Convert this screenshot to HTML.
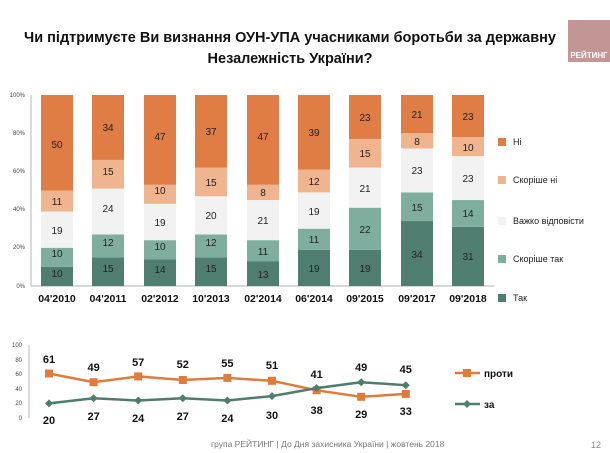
<!DOCTYPE html>
<html><head><meta charset="utf-8"><style>
body{margin:0;background:#fff;}
svg{display:block;font-family:"Liberation Sans",sans-serif;}
</style></head><body>
<svg width="610" height="453" viewBox="0 0 610 453" xmlns="http://www.w3.org/2000/svg">
<rect width="610" height="453" fill="#fff"/>
<text x="290" y="42" font-size="14.5" font-weight="bold" text-anchor="middle" fill="#111">Чи підтримуєте Ви визнання ОУН-УПА учасниками боротьби за державну</text>
<text x="290" y="63" font-size="14.5" font-weight="bold" text-anchor="middle" fill="#111">Незалежність України?</text>
<rect x="568" y="20" width="42" height="42" fill="#c49595"/>
<text x="589" y="58" font-size="8" font-weight="bold" fill="#fff" text-anchor="middle">РЕЙТИНГ</text>

<g font-size="6" fill="#444" text-anchor="end">
<text x="25" y="97">100%</text><text x="25" y="135">80%</text><text x="25" y="173">60%</text><text x="25" y="211">40%</text><text x="25" y="249">20%</text><text x="25" y="288">0%</text>
</g>
<line x1="31" y1="95" x2="31" y2="286" stroke="#999" stroke-width="0.7"/>
<line x1="31" y1="286" x2="494" y2="286" stroke="#999" stroke-width="0.7"/>

<g transform="translate(0,286) scale(1,-1.91)">
<g transform="translate(41,0)"><rect y="0" width="32" height="10" fill="#4f7d6f"/><rect y="10" width="32" height="10" fill="#7fae9f"/><rect y="20" width="32" height="19" fill="#f2f2f2"/><rect y="39" width="32" height="11" fill="#f0b48f"/><rect y="50" width="32" height="50" fill="#df7d45"/></g>
<g transform="translate(92,0)"><rect y="0" width="32" height="15" fill="#4f7d6f"/><rect y="15" width="32" height="12" fill="#7fae9f"/><rect y="27" width="32" height="24" fill="#f2f2f2"/><rect y="51" width="32" height="15" fill="#f0b48f"/><rect y="66" width="32" height="34" fill="#df7d45"/></g>
<g transform="translate(144,0)"><rect y="0" width="32" height="14" fill="#4f7d6f"/><rect y="14" width="32" height="10" fill="#7fae9f"/><rect y="24" width="32" height="19" fill="#f2f2f2"/><rect y="43" width="32" height="10" fill="#f0b48f"/><rect y="53" width="32" height="47" fill="#df7d45"/></g>
<g transform="translate(195,0)"><rect y="0" width="32" height="15" fill="#4f7d6f"/><rect y="15" width="32" height="12" fill="#7fae9f"/><rect y="27" width="32" height="20" fill="#f2f2f2"/><rect y="47" width="32" height="15" fill="#f0b48f"/><rect y="62" width="32" height="38" fill="#df7d45"/></g>
<g transform="translate(247,0)"><rect y="0" width="32" height="13" fill="#4f7d6f"/><rect y="13" width="32" height="11" fill="#7fae9f"/><rect y="24" width="32" height="21" fill="#f2f2f2"/><rect y="45" width="32" height="8" fill="#f0b48f"/><rect y="53" width="32" height="47" fill="#df7d45"/></g>
<g transform="translate(298,0)"><rect y="0" width="32" height="19" fill="#4f7d6f"/><rect y="19" width="32" height="11" fill="#7fae9f"/><rect y="30" width="32" height="19" fill="#f2f2f2"/><rect y="49" width="32" height="12" fill="#f0b48f"/><rect y="61" width="32" height="39" fill="#df7d45"/></g>
<g transform="translate(349,0)"><rect y="0" width="32" height="19" fill="#4f7d6f"/><rect y="19" width="32" height="22" fill="#7fae9f"/><rect y="41" width="32" height="21" fill="#f2f2f2"/><rect y="62" width="32" height="15" fill="#f0b48f"/><rect y="77" width="32" height="23" fill="#df7d45"/></g>
<g transform="translate(401,0)"><rect y="0" width="32" height="34" fill="#4f7d6f"/><rect y="34" width="32" height="15" fill="#7fae9f"/><rect y="49" width="32" height="23" fill="#f2f2f2"/><rect y="72" width="32" height="8" fill="#f0b48f"/><rect y="80" width="32" height="20" fill="#df7d45"/></g>
<g transform="translate(452,0)"><rect y="0" width="32" height="31" fill="#4f7d6f"/><rect y="31" width="32" height="14" fill="#7fae9f"/><rect y="45" width="32" height="23" fill="#f2f2f2"/><rect y="68" width="32" height="10" fill="#f0b48f"/><rect y="78" width="32" height="22" fill="#df7d45"/></g>
</g>

<g font-size="10" fill="#222" text-anchor="middle">
<text x="57" y="277">10</text><text x="57" y="257">10</text><text x="57" y="234">19</text><text x="57" y="205">11</text><text x="57" y="148">50</text>
<text x="108" y="272">15</text><text x="108" y="246">12</text><text x="108" y="212">24</text><text x="108" y="175">15</text><text x="108" y="131">34</text>
<text x="160" y="273">14</text><text x="160" y="250">10</text><text x="160" y="226">19</text><text x="160" y="194">10</text><text x="160" y="140">47</text>
<text x="211" y="272">15</text><text x="211" y="246">12</text><text x="211" y="219">20</text><text x="211" y="186">15</text><text x="211" y="135">37</text>
<text x="263" y="278">13</text><text x="263" y="255">11</text><text x="263" y="224">21</text><text x="263" y="196">8</text><text x="263" y="140">47</text>
<text x="314" y="272">19</text><text x="314" y="243">11</text><text x="314" y="215">19</text><text x="314" y="185">12</text><text x="314" y="136">39</text>
<text x="365" y="272">19</text><text x="365" y="233">22</text><text x="365" y="192">21</text><text x="365" y="157">15</text><text x="365" y="121">23</text>
<text x="417" y="258">34</text><text x="417" y="211">15</text><text x="417" y="174">23</text><text x="417" y="145">8</text><text x="417" y="118">21</text>
<text x="468" y="260">31</text><text x="468" y="217">14</text><text x="468" y="182">23</text><text x="468" y="151">10</text><text x="468" y="120">23</text>
</g>

<g font-size="10.5" font-weight="bold" fill="#111" text-anchor="middle">
<text x="57" y="302">04'2010</text><text x="108" y="302">04'2011</text><text x="160" y="302">02'2012</text><text x="211" y="302">10'2013</text><text x="263" y="302">02'2014</text><text x="314" y="302">06'2014</text><text x="365" y="302">09'2015</text><text x="417" y="302">09'2017</text><text x="468" y="302">09'2018</text>
</g>

<g font-size="9" fill="#222">
<rect x="498" y="138" width="8" height="8" fill="#df7d45"/><text x="513" y="145">Ні</text>
<rect x="498" y="176" width="8" height="8" fill="#f0b48f"/><text x="513" y="183">Скоріше ні</text>
<rect x="498" y="217" width="8" height="8" fill="#f2f2f2"/><text x="513" y="224">Важко відповісти</text>
<rect x="498" y="255" width="8" height="8" fill="#7fae9f"/><text x="513" y="262">Скоріше так</text>
<rect x="498" y="294" width="8" height="8" fill="#4f7d6f"/><text x="513" y="301">Так</text>
</g>

<g font-size="6" fill="#444" text-anchor="end">
<text x="22" y="347">100</text><text x="22" y="362">80</text><text x="22" y="376">60</text><text x="22" y="391">40</text><text x="22" y="405">20</text><text x="22" y="420">0</text>
</g>
<line x1="29" y1="345" x2="29" y2="418" stroke="#999" stroke-width="0.7"/>

<polyline fill="none" stroke="#e07b39" stroke-width="2.5" points="49,373.5 93.6,382.2 138.2,376.4 182.8,380 227.4,377.9 272,380.8 316.6,390.3 361.2,396.8 405.8,393.9"/>
<g fill="#e07b39">
<rect x="45" y="369.5" width="8" height="8"/><rect x="89.6" y="378.2" width="8" height="8"/><rect x="134.2" y="372.4" width="8" height="8"/><rect x="178.8" y="376" width="8" height="8"/><rect x="223.4" y="373.9" width="8" height="8"/><rect x="268" y="376.8" width="8" height="8"/><rect x="312.6" y="386.3" width="8" height="8"/><rect x="357.2" y="392.8" width="8" height="8"/><rect x="401.8" y="389.9" width="8" height="8"/>
</g>
<polyline fill="none" stroke="#4e7d6e" stroke-width="2.5" points="49,403.4 93.6,398.3 138.2,400.5 182.8,398.3 227.4,400.5 272,396.1 316.6,388.1 361.2,382.2 405.8,385.2"/>
<g fill="#4e7d6e">
<path d="M49 399.4l4 4-4 4-4-4z"/><path d="M93.6 394.3l4 4-4 4-4-4z"/><path d="M138.2 396.5l4 4-4 4-4-4z"/><path d="M182.8 394.3l4 4-4 4-4-4z"/><path d="M227.4 396.5l4 4-4 4-4-4z"/><path d="M272 392.1l4 4-4 4-4-4z"/><path d="M316.6 384.1l4 4-4 4-4-4z"/><path d="M361.2 378.2l4 4-4 4-4-4z"/><path d="M405.8 381.2l4 4-4 4-4-4z"/>
</g>

<g font-size="11" font-weight="bold" fill="#111" text-anchor="middle">
<text x="49" y="363">61</text><text x="93.6" y="371">49</text><text x="138.2" y="366">57</text><text x="182.8" y="368">52</text><text x="227.4" y="367">55</text><text x="272" y="369">51</text><text x="316.6" y="378">41</text><text x="361.2" y="371">49</text><text x="405.8" y="373">45</text>
<text x="49" y="424">20</text><text x="93.6" y="420">27</text><text x="138.2" y="422">24</text><text x="182.8" y="420">27</text><text x="227.4" y="422">24</text><text x="272" y="419">30</text><text x="316.6" y="414">38</text><text x="361.2" y="418">29</text><text x="405.8" y="415">33</text>
</g>

<line x1="455" y1="373" x2="480" y2="373" stroke="#e07b39" stroke-width="2.5"/><rect x="463" y="369" width="8" height="8" fill="#e07b39"/>
<text x="484" y="377" font-size="10" font-weight="bold" fill="#111">проти</text>
<line x1="455" y1="404" x2="480" y2="404" stroke="#4e7d6e" stroke-width="2.5"/><path d="M467 400l4 4-4 4-4-4z" fill="#4e7d6e"/>
<text x="484" y="408" font-size="10" font-weight="bold" fill="#111">за</text>

<text x="211" y="447" font-size="8.5" fill="#777">група РЕЙТИНГ  |  До Дня захисника України |  жовтень  2018</text>
<text x="596" y="448" font-size="9" fill="#888" text-anchor="middle">12</text>
</svg>
</body></html>
